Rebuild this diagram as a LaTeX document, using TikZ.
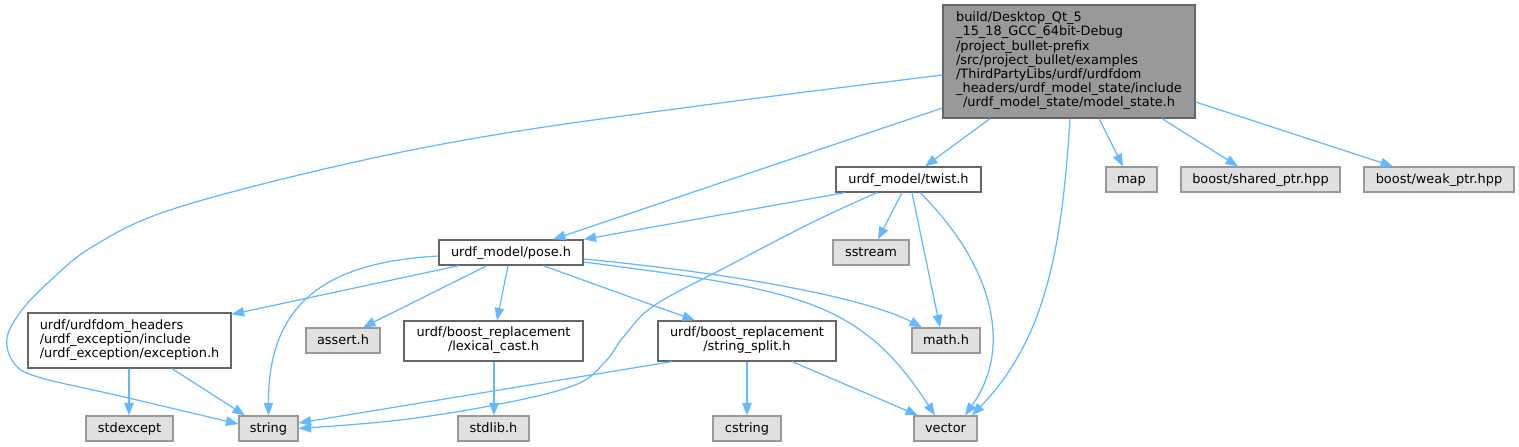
\documentclass[tikz,border=0pt]{standalone}
\usepackage{fontspec}
\setmainfont{DejaVu Sans}
\usetikzlibrary{arrows.meta}
\definecolor{edgeblue}{HTML}{63B8FF}
\definecolor{sysfill}{HTML}{E0E0E0}
\definecolor{sysline}{HTML}{999999}
\definecolor{fileline}{HTML}{666666}
\definecolor{mainfill}{HTML}{999999}
\begin{document}
\begin{tikzpicture}[x=1pt,y=-1pt,
  nodebase/.style={rectangle, line width=1.2pt, inner sep=0pt, font=\fontsize{12.9}{14.2}\selectfont, text=black},
  sysbox/.style={nodebase, draw=sysline, fill=sysfill, minimum height=25pt, text height=10pt, text depth=1.6pt},
  filebox/.style={nodebase, draw=fileline, fill=white},
  filesingle/.style={filebox, minimum height=25pt, text height=10pt, text depth=1.6pt},
  mainbox/.style={nodebase, draw=fileline, fill=mainfill},
  dep/.style={draw=edgeblue, line width=1.25pt, -{Triangle[length=12.5pt,width=9.5pt]}},
]
\useasboundingbox (0,0) rectangle (1519,447);

% nodes
\node[mainbox, minimum width=252pt, minimum height=113pt] (main) at (1069,61.5)
  {\begin{tabular}{@{}l@{}}build/Desktop\_Qt\_5\\ \_15\_18\_GCC\_64bit-Debug\\ /project\_bullet-prefix\\ /src/project\_bullet/examples\\ /ThirdPartyLibs/urdf/urdfdom\\ \_headers/urdf\_model\_state/include\\ \multicolumn{1}{@{}c@{}}{/urdf\_model\_state/model\_state.h}\end{tabular}};
\node[filesingle, minimum width=145pt] (twist) at (908.5,179.5) {urdf\_model/twist.h};
\node[sysbox, minimum width=51pt] (map) at (1131.5,179.5) {map};
\node[sysbox, minimum width=159pt] (shared) at (1260.5,179.5) {boost/shared\_ptr.hpp};
\node[sysbox, minimum width=150pt] (weak) at (1439,179.5) {boost/weak\_ptr.hpp};
\node[filesingle, minimum width=144pt] (pose) at (511,252.5) {urdf\_model/pose.h};
\node[sysbox, minimum width=76pt] (sstream) at (871,252.5) {sstream};
\node[filebox, minimum width=203pt, minimum height=55pt] (exception) at (129.5,340.5)
  {\begin{tabular}{@{}l@{}}urdf/urdfdom\_headers\\ /urdf\_exception/include\\ /urdf\_exception/exception.h\end{tabular}};
\node[sysbox, minimum width=74pt] (assert) at (343,340.5) {assert.h};
\node[filebox, minimum width=179pt, minimum height=40pt] (lexical) at (493.5,341)
  {\begin{tabular}{@{}l@{}}urdf/boost\_replacement\\ \multicolumn{1}{@{}c@{}}{/lexical\_cast.h}\end{tabular}};
\node[filebox, minimum width=178pt, minimum height=40pt] (split) at (747,341)
  {\begin{tabular}{@{}l@{}}urdf/boost\_replacement\\ \multicolumn{1}{@{}c@{}}{/string\_split.h}\end{tabular}};
\node[sysbox, minimum width=68pt] (math) at (946,340.5) {math.h};
\node[sysbox, minimum width=87pt] (stdexcept) at (129.5,428.5) {stdexcept};
\node[sysbox, minimum width=59pt] (string) at (268.5,428.5) {string};
\node[sysbox, minimum width=71pt] (stdlib) at (493.5,428.5) {stdlib.h};
\node[sysbox, minimum width=68pt] (cstring) at (747,428.5) {cstring};
\node[sysbox, minimum width=63pt] (vector) at (945.5,428.5) {vector};

% edge end points used by smooth plots
\coordinate (mainS) at ([yshift=-13.5pt]main.west);
\coordinate (strW) at ([yshift=4.5pt]string.west);
\coordinate (twistS) at ([xshift=-31.5pt]twist.south);
\coordinate (strE) at (string.east);

% edges from model_state.h
\draw[dep] plot[smooth, tension=0.6] coordinates {(mainS) (720,103) (500,134) (333,167) (170,210) (92,247) (50,281) (22,310) (7,338) (14,363) (38,377) (120,396) (strW)};
\draw[dep] ([yshift=-46.5pt]main.west) -- ([xshift=42pt]pose.north);
\draw[dep] ([xshift=-79pt]main.south) -- ([xshift=16.5pt]twist.north);
\draw[dep] ([xshift=1pt]main.south) .. controls (1062,250) and (1045,340) .. ([xshift=26.5pt]vector.north);
\draw[dep] ([xshift=30pt]main.south) -- ([xshift=-8.5pt]map.north);
\draw[dep] ([xshift=93pt]main.south) -- ([xshift=-22.5pt]shared.north);
\draw[dep] ([yshift=-40.5pt]main.east) -- ([xshift=-46pt]weak.north);

% edges from twist.h
\draw[dep] ([xshift=-63.5pt]twist.south) -- (pose.north east);
\draw[dep] plot[smooth, tension=0.6] coordinates {(twistS) (813,222) (730,265) (655,305) (625,335) (605,362) (575,385) (500,404) (400,420) (strE)};
\draw[dep] ([xshift=-6.5pt]twist.south) -- ([xshift=7pt]sstream.north);
\draw[dep] ([xshift=3.5pt]twist.south) -- ([xshift=-6pt]math.north);
\draw[dep] ([xshift=11.5pt]twist.south) .. controls (990,262) and (1015,345) .. ([xshift=19.5pt]vector.north);

% edges from pose.h
\draw[dep] ([xshift=-52pt]pose.south) -- ([yshift=-2pt]exception.north east);
\draw[dep] ([yshift=-3.5pt]pose.west) .. controls (330,262) and (268,300) .. (string.north);
\draw[dep] ([xshift=-24pt]pose.south) -- ([xshift=20pt]assert.north);
\draw[dep] ([xshift=-3pt]pose.south) -- ([xshift=3.5pt]lexical.north);
\draw[dep] ([xshift=32pt]pose.south) -- ([xshift=-52pt]split.north);
\draw[dep] ([yshift=-6.5pt]pose.east) .. controls (750,275) and (870,300) .. ([xshift=-24pt]math.north);
\draw[dep] ([yshift=-9.5pt]pose.east) .. controls (800,290) and (860,300) .. ([xshift=-10.5pt]vector.north);

% edges from exception.h
\draw[dep] ([xshift=-0.5pt]exception.south) -- ([xshift=-0.5pt]stdexcept.north);
\draw[dep] ([xshift=42.5pt]exception.south) -- ([xshift=-23.5pt]string.north);

% edges from lexical_cast.h
\draw[dep] ([xshift=0.5pt]lexical.south) -- ([xshift=0.5pt]stdlib.north);

% edges from string_split.h
\draw[dep] ([xshift=-75pt]split.south) -- ([yshift=5.5pt]string.east);
\draw[dep] (split.south) -- (cstring.north);
\draw[dep] ([xshift=45pt]split.south) -- ([xshift=-27.5pt]vector.north);
\end{tikzpicture}
\end{document}
